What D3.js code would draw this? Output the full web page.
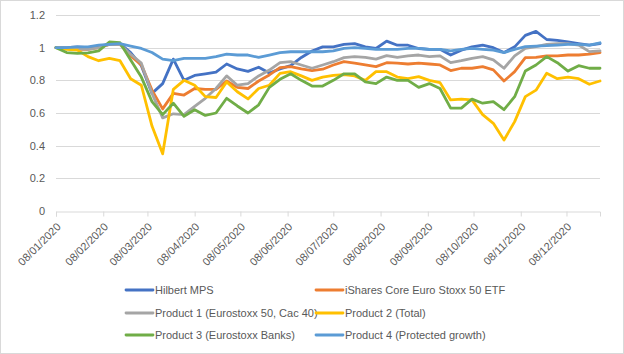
<!DOCTYPE html>
<html><head><meta charset="utf-8">
<script src="https://cdn.jsdelivr.net/npm/d3@7"></script>
<style>
html,body{margin:0;padding:0;background:#fff;}
svg text{font-family:"Liberation Sans",Arial,sans-serif;fill:#595959;}
</style></head>
<body><svg id="c" width="624" height="354"></svg>
<script>
const dates = ["2020-01-08","2020-01-15","2020-01-22","2020-01-29","2020-02-05","2020-02-12","2020-02-19","2020-02-26","2020-03-04","2020-03-11","2020-03-18","2020-03-25","2020-04-01","2020-04-08","2020-04-15","2020-04-22","2020-04-29","2020-05-06","2020-05-13","2020-05-20","2020-05-27","2020-06-03","2020-06-10","2020-06-17","2020-06-24","2020-07-01","2020-07-08","2020-07-15","2020-07-22","2020-07-29","2020-08-05","2020-08-12","2020-08-19","2020-08-26","2020-09-02","2020-09-09","2020-09-16","2020-09-23","2020-09-30","2020-10-07","2020-10-14","2020-10-21","2020-10-28","2020-11-04","2020-11-11","2020-11-18","2020-11-25","2020-12-02","2020-12-09","2020-12-16","2020-12-23","2020-12-30"];

const hilbert = [1.0,1.0,1.005,1.0,1.01,1.02,1.025,0.97,0.89,0.72,0.78,0.93,0.80,0.83,0.84,0.85,0.90,0.87,0.855,0.88,0.845,0.87,0.89,0.94,0.98,1.005,1.005,1.02,1.025,1.005,0.995,1.04,1.015,1.015,0.995,0.99,0.99,0.955,0.985,1.005,1.015,1.0,0.97,1.005,1.075,1.10,1.05,1.045,1.035,1.025,1.015,1.025];
const ishares = [1.0,0.995,0.99,0.99,1.0,1.02,1.02,0.95,0.895,0.74,0.625,0.72,0.71,0.75,0.745,0.745,0.796,0.757,0.75,0.796,0.833,0.878,0.884,0.87,0.86,0.868,0.894,0.914,0.905,0.894,0.884,0.908,0.905,0.9,0.905,0.9,0.894,0.86,0.874,0.874,0.884,0.864,0.796,0.853,0.939,0.94,0.95,0.95,0.955,0.955,0.96,0.97];
const product1 = [1.0,1.0,0.995,0.99,1.0,1.02,1.02,0.96,0.905,0.72,0.57,0.595,0.59,0.64,0.69,0.75,0.827,0.77,0.78,0.827,0.863,0.908,0.914,0.894,0.874,0.894,0.914,0.939,0.945,0.94,0.93,0.951,0.94,0.95,0.955,0.945,0.95,0.908,0.92,0.935,0.945,0.925,0.874,0.95,0.996,1.006,1.02,1.025,1.025,1.016,0.976,0.98];
const product2 = [1.0,0.99,0.985,0.945,0.92,0.935,0.92,0.81,0.77,0.52,0.35,0.745,0.80,0.77,0.70,0.695,0.79,0.73,0.686,0.75,0.77,0.843,0.853,0.827,0.80,0.82,0.83,0.835,0.827,0.80,0.853,0.853,0.82,0.81,0.823,0.80,0.786,0.68,0.685,0.68,0.59,0.537,0.435,0.547,0.70,0.74,0.843,0.81,0.82,0.81,0.776,0.796];
const product3 = [1.0,0.97,0.965,0.968,0.98,1.035,1.03,0.925,0.82,0.67,0.59,0.66,0.58,0.62,0.585,0.60,0.69,0.643,0.60,0.65,0.757,0.806,0.84,0.80,0.765,0.765,0.80,0.84,0.84,0.79,0.78,0.82,0.80,0.80,0.757,0.78,0.75,0.63,0.63,0.685,0.66,0.67,0.62,0.70,0.857,0.894,0.945,0.908,0.857,0.89,0.874,0.874];
const product4 = [1.0,1.0,1.005,1.005,1.015,1.02,1.025,1.01,0.995,0.97,0.93,0.92,0.935,0.935,0.935,0.945,0.96,0.955,0.955,0.94,0.955,0.97,0.975,0.975,0.975,0.975,0.98,0.996,1.0,0.996,0.99,0.99,0.99,0.996,0.996,0.99,0.99,0.98,0.99,0.996,0.99,0.985,0.97,0.99,1.006,1.01,1.012,1.016,1.02,1.02,1.016,1.03];

const seriesNames = ["Hilbert MPS","iShares Core Euro Stoxx 50 ETF","Product 1 (Eurostoxx 50, Cac 40)","Product 2 (Total)","Product 3 (Eurostoxx Banks)","Product 4 (Protected growth)"];
const seriesColors = ["#4472C4","#ED7D31","#A5A5A5","#FFC000","#70AD47","#5B9BD5"];
const seriesValues = [hilbert, ishares, product1, product2, product3, product4];

const xTickDates = ["2020-01-08","2020-02-08","2020-03-08","2020-04-08","2020-05-08","2020-06-08","2020-07-08","2020-08-08","2020-09-08","2020-10-08","2020-11-08","2020-12-08"];
const xTickLabels = ["08/01/2020","08/02/2020","08/03/2020","08/04/2020","08/05/2020","08/06/2020","08/07/2020","08/08/2020","08/09/2020","08/10/2020","08/11/2020","08/12/2020"];
const yTicks = [0,0.2,0.4,0.6,0.8,1,1.2];

const parse = d3.utcParse("%Y-%m-%d");
const dts = dates.map(parse);
const svg = d3.select("#c");
svg.append("rect").attr("x",0.5).attr("y",0.5).attr("width",623).attr("height",353)
  .attr("fill","#fff").attr("stroke","#d9d9d9");

const x = d3.scaleUtc().domain([dts[0], dts[dts.length-1]]).range([56, 600]);
const y = d3.scaleLinear().domain([0,1.2]).range([211,15]);

// grid
svg.append("g").selectAll("line").data(yTicks.filter(v=>v>0)).join("line")
  .attr("x1",56).attr("x2",600).attr("y1",d=>Math.round(y(d))+0.5).attr("y2",d=>Math.round(y(d))+0.5)
  .attr("stroke","#d9d9d9").attr("stroke-width",1);

// y labels
svg.append("g").selectAll("text").data(yTicks).join("text")
  .attr("x",45).attr("y",d=>y(d)+4).attr("text-anchor","end").attr("font-size","11px")
  .text(d=>d3.format("")(d));

// x axis
const xAxis = d3.axisBottom(x).tickValues(xTickDates.map(parse)).tickSize(5)
  .tickFormat((d,i)=>xTickLabels[i]);
const gx = svg.append("g").attr("transform","translate(0,"+(Math.round(y(0))+0.5)+")").call(xAxis);
gx.select(".domain").attr("stroke","#d9d9d9");
gx.selectAll(".tick line").attr("stroke","#d9d9d9");
gx.selectAll(".tick text").attr("font-size","11px").attr("fill","#595959")
  .attr("font-family","Liberation Sans, Arial, sans-serif")
  .attr("text-anchor","end").attr("dy",null).attr("y",0)
  .attr("transform","translate(5,16) rotate(-45)");

// lines
const line = d3.line().x((d,i)=>x(dts[i])).y(d=>y(d));
svg.append("g").selectAll("path").data(seriesValues).join("path")
  .attr("d",line).attr("fill","none").attr("stroke",(d,i)=>seriesColors[i])
  .attr("stroke-width",2.8).attr("stroke-linejoin","round").attr("stroke-linecap","round");

// legend
const legPos = [[126,290],[316,290],[126,313],[316,313],[126,335],[316,335]];
const lg = svg.append("g");
seriesNames.forEach((n,i)=>{
  const [lx,ly]=legPos[i];
  lg.append("line").attr("x1",lx).attr("x2",lx+27).attr("y1",ly).attr("y2",ly)
    .attr("stroke",seriesColors[i]).attr("stroke-width",2.8).attr("stroke-linecap","round");
  lg.append("text").attr("x",lx+29).attr("y",ly+4).attr("font-size","11px").text(n);
});
</script></body></html>
